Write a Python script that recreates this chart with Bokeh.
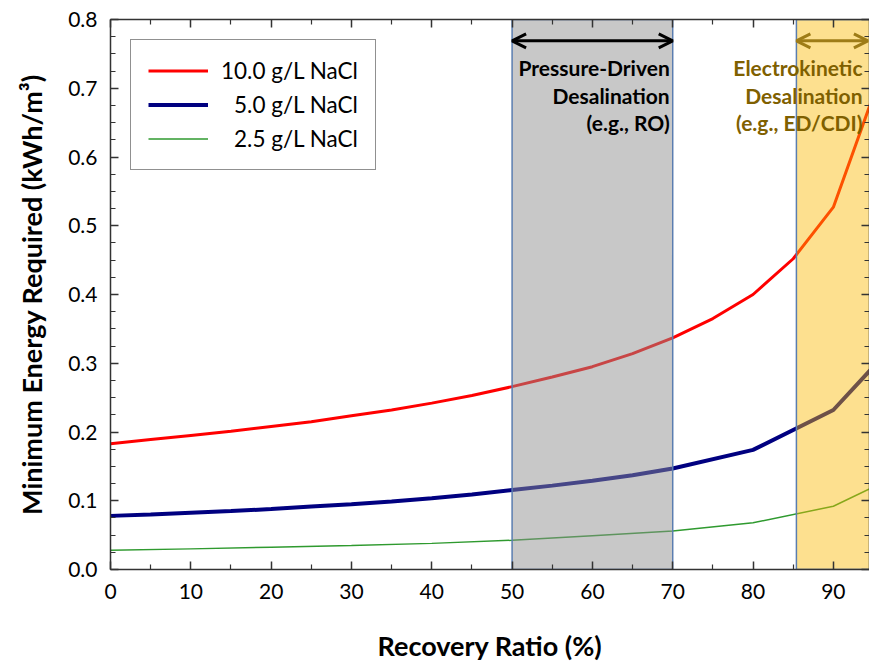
from bokeh.plotting import figure
from bokeh.models import (Legend, LegendItem, LinearAxis, Arrow, OpenHead,
                          FixedTicker, ColumnDataSource, PrintfTickFormatter,
                          CustomJSTickFormatter)
from bokeh.core.properties import value
from bokeh.embed import file_html
from bokeh.resources import INLINE

# ---- data ----
x_red = [0, 5, 10, 15, 20, 25, 30, 35, 40, 45, 50, 55, 60, 65, 70, 75, 80, 85, 90, 95]
y_red = [0.183, 0.189, 0.195, 0.201, 0.208, 0.215, 0.2235, 0.232, 0.242, 0.253,
         0.266, 0.280, 0.295, 0.314, 0.337, 0.365, 0.400, 0.452, 0.527, 0.690]

x_blue = [0, 5, 10, 15, 20, 25, 30, 35, 40, 45, 50, 55, 60, 65, 70, 80, 90, 95]
y_blue = [0.078, 0.080, 0.0825, 0.085, 0.088, 0.0915, 0.095, 0.099, 0.1035, 0.109,
          0.1155, 0.122, 0.129, 0.137, 0.147, 0.174, 0.232, 0.295]

x_green = [0, 10, 20, 30, 40, 50, 60, 70, 80, 90, 95]
y_green = [0.028, 0.030, 0.0325, 0.035, 0.038, 0.0425, 0.049, 0.056, 0.068, 0.092, 0.120]

series_labels = ["10.0 g/L NaCl", "\u20075.0 g/L NaCl", "\u20072.5 g/L NaCl"]

region_left = [50, 85.4]
region_right = [70, 100]
region_labels = ["Pressure-Driven\nDesalination\n(e.g., RO)",
                 "Electrokinetic\nDesalination\n(e.g., ED/CDI)"]
arrow_y = 0.769
label_y = 0.748

x_ticks = [0, 10, 20, 30, 40, 50, 60, 70, 80, 90]
y_ticks = [0.0, 0.1, 0.2, 0.3, 0.4, 0.5, 0.6, 0.7, 0.8]

FONT = "Lato"
AX = "#333333"

p = figure(width=869, height=664, x_range=(0, 94.5), y_range=(0, 0.8),
           output_backend="svg", toolbar_location=None,
           min_border_left=110, min_border_right=0, min_border_top=19,
           min_border_bottom=95, background_fill_color="white",
           border_fill_color="white", outline_line_color=None)
p.xgrid.visible = False
p.ygrid.visible = False

# curves
r_red = p.line(x_red, y_red, line_color="#FF0000", line_width=3)
r_blue = p.line(x_blue, y_blue, line_color="#000080", line_width=4)
r_green = p.line(x_green, y_green, line_color="#2F9A2F", line_width=1.5)

# shaded regions drawn over the curves (translucent)
src = ColumnDataSource(dict(left=region_left, right=region_right,
                            bottom=[0, 0], top=[0.8, 0.8],
                            color=["#8F8F8F", "#FAB900"], alpha=[0.49, 0.44]))
p.quad(left="left", right="right", bottom="bottom", top="top", source=src,
       fill_color="color", fill_alpha="alpha", line_color="#5A7DB0", line_width=1.5)

# arrows
p.add_layout(Arrow(x_start=region_left[0], x_end=region_right[0], y_start=arrow_y, y_end=arrow_y,
                   line_color="black", line_width=3,
                   start=OpenHead(size=14, line_width=3, line_color="black"),
                   end=OpenHead(size=14, line_width=3, line_color="black")))
p.add_layout(Arrow(x_start=region_left[1], x_end=94.3, y_start=arrow_y, y_end=arrow_y,
                   line_color="#9E7C17", line_width=3,
                   start=OpenHead(size=14, line_width=3, line_color="#9E7C17"),
                   end=OpenHead(size=14, line_width=3, line_color="#9E7C17")))

# region labels
p.text(x=[region_right[0]], y=[label_y], text=[region_labels[0]], text_align="right",
       text_baseline="top", text_font=value(FONT), text_font_style="bold",
       text_font_size="21px", text_line_height=1.1, text_color="black", x_offset=-3)
p.text(x=[94.5], y=[label_y], text=[region_labels[1]], text_align="right",
       text_baseline="top", text_font=value(FONT), text_font_style="bold",
       text_font_size="21px", text_line_height=1.1, text_color="#7F6000", x_offset=-7)

# axes styling
def style_axis(ax, show_labels=True):
    ax.axis_line_color = AX
    ax.axis_line_width = 1.5
    ax.major_tick_line_color = AX
    ax.minor_tick_line_color = AX
    ax.major_tick_line_width = 1.5
    ax.minor_tick_line_width = 1.2
    ax.major_tick_in = 8
    ax.major_tick_out = 0
    ax.minor_tick_in = 5
    ax.minor_tick_out = 0
    ax.major_label_text_font = FONT
    ax.major_label_text_color = "black"
    ax.axis_label_text_font = FONT
    ax.axis_label_text_font_style = "bold"
    ax.axis_label_text_color = "black"
    if not show_labels:
        ax.formatter = CustomJSTickFormatter(code="return '';")
        ax.major_label_standoff = 0

x_minor = [v + 5 for v in x_ticks]
y_minor = [round(0.025 * i, 3) for i in range(33)]

xa = p.xaxis[0]
xa.ticker = FixedTicker(ticks=x_ticks, minor_ticks=x_minor)
style_axis(xa)
xa.major_label_text_font_size = "21px"
xa.major_label_standoff = 14
xa.axis_label = "Recovery Ratio (%)"
xa.axis_label_text_font_size = "27px"
xa.axis_label_standoff = 27

ya = p.yaxis[0]
ya.ticker = FixedTicker(ticks=y_ticks, minor_ticks=y_minor)
style_axis(ya)
ya.formatter = PrintfTickFormatter(format="%.1f")
ya.major_label_text_font_size = "21px"
ya.major_label_standoff = 13
ya.axis_label = "Minimum Energy Required (kWh/m³)"
ya.axis_label_text_font_size = "27px"
ya.axis_label_standoff = 17

top_ax = LinearAxis(ticker=FixedTicker(ticks=x_ticks, minor_ticks=x_minor))
style_axis(top_ax, show_labels=False)
p.add_layout(top_ax, "above")

right_ax = LinearAxis(ticker=FixedTicker(ticks=y_ticks, minor_ticks=y_minor))
style_axis(right_ax, show_labels=False)
p.add_layout(right_ax, "right")

# legend
legend = Legend(items=[LegendItem(label=series_labels[0], renderers=[r_red]),
                       LegendItem(label=series_labels[1], renderers=[r_blue]),
                       LegendItem(label=series_labels[2], renderers=[r_green])],
                location="top_left")
legend.margin = 20
legend.padding = 17
legend.spacing = 7
legend.glyph_width = 60
legend.glyph_height = 27
legend.label_height = 27
legend.label_standoff = 13
legend.label_text_font = FONT
legend.label_text_font_size = "22.5px"
legend.label_text_color = "black"
legend.border_line_color = "#222222"
legend.border_line_width = 1.5
legend.background_fill_alpha = 1
p.add_layout(legend)

open("out.html", "w").write(file_html(p, INLINE))
